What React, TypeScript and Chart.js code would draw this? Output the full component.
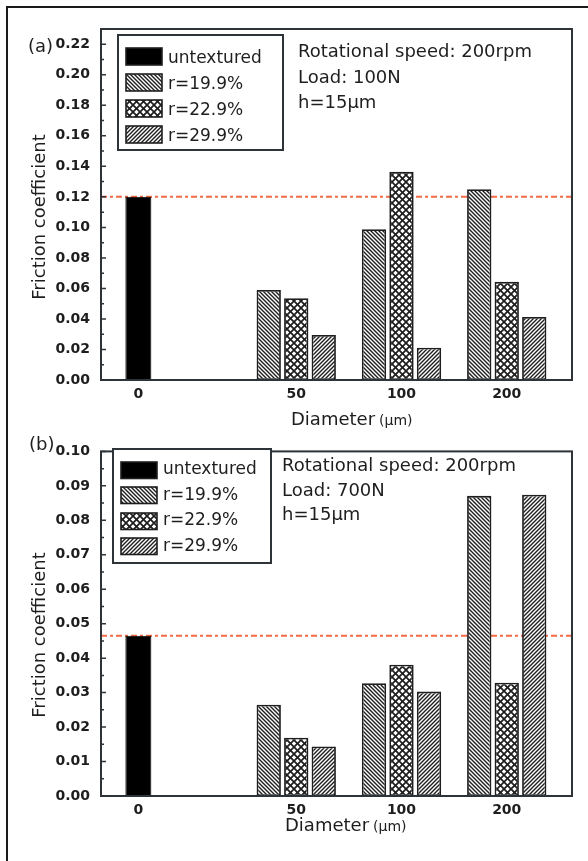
import React, { useEffect, useRef } from 'react';
import { Chart, registerables } from 'chart.js';

Chart.register(...registerables);

// ---------- data ----------
const categories = ['0', '50', '100', '200'];
const categoryPositions = [0, 1.5, 2.5, 3.5];
const seriesLabels = ['untextured', 'r=19.9%', 'r=22.9%', 'r=29.9%'];

const untexturedA = [0.12];
const r199A = [0.059, 0.0988, 0.125];
const r229A = [0.0536, 0.1364, 0.0643];
const r299A = [0.0295, 0.0212, 0.0413];
const refLineA = 0.12;
const yTicksA = [0, 0.02, 0.04, 0.06, 0.08, 0.1, 0.12, 0.14, 0.16, 0.18, 0.2, 0.22];
const yMaxA = 0.23;
const notesA = ['Rotational speed: 200rpm', 'Load: 100N', 'h=15\u03bcm'];

const untexturedB = [0.0465];
const r199B = [0.0265, 0.0327, 0.0871];
const r229B = [0.0169, 0.0381, 0.0329];
const r299B = [0.0144, 0.0303, 0.0874];
const refLineB = 0.0465;
const yTicksB = [0, 0.01, 0.02, 0.03, 0.04, 0.05, 0.06, 0.07, 0.08, 0.09, 0.1];
const yMaxB = 0.1;
const notesB = ['Rotational speed: 200rpm', 'Load: 700N', 'h=15\u03bcm'];

const FONT = '"DejaVu Sans", "Liberation Sans", Arial, sans-serif';
const INK = '#1e1e1e';

type PanelLayout = {
  height: number;
  top: number;
  xAxisHeight: number;
  panelLabel: string;
  panelLabelPos: [number, number];
  legendBox: [number, number, number, number];
  swatchX: number;
  swatchW: number;
  swatchH: number;
  swatchTops: number[];
  textX: number;
  textBaselines: number[];
  noteX: number;
  noteBaselines: number[];
  yTitleCenterY: number;
  yTitleBaselineX: number;
  xTitlePos: [number, number];
};

const layoutA: PanelLayout = {
  height: 432,
  top: 29,
  xAxisHeight: 432 - 380,
  panelLabel: '(a)',
  panelLabelPos: [28, 52],
  legendBox: [118, 35, 283, 150],
  swatchX: 126,
  swatchW: 36,
  swatchH: 17,
  swatchTops: [48, 74, 100, 126],
  textX: 168,
  textBaselines: [63, 89, 115, 141],
  noteX: 298,
  noteBaselines: [57, 83, 108],
  yTitleCenterY: 217,
  yTitleBaselineX: 45,
  xTitlePos: [291, 425],
};

const layoutB: PanelLayout = {
  height: 429,
  top: 14,
  xAxisHeight: 429 - 364,
  panelLabel: '(b)',
  panelLabelPos: [29, 18],
  legendBox: [113, 17, 271, 131],
  swatchX: 121,
  swatchW: 36,
  swatchH: 16.5,
  swatchTops: [30, 55, 81, 106],
  textX: 163,
  textBaselines: [41.5, 68, 93, 118.5],
  noteX: 282,
  noteBaselines: [38.5, 64, 88],
  yTitleCenterY: 203,
  yTitleBaselineX: 45,
  xTitlePos: [285, 399],
};

function makePattern(kind: 'back' | 'fwd' | 'cross'): CanvasPattern | string {
  const p = kind === 'cross' ? 7 : 4;
  const c = document.createElement('canvas');
  c.width = p;
  c.height = p;
  const g = c.getContext('2d');
  if (!g) return '#888';
  g.fillStyle = '#ffffff';
  g.fillRect(0, 0, p, p);
  g.strokeStyle = INK;
  g.lineWidth = kind === 'cross' ? 1.7 : 1.4;
  const back = () => {
    g.beginPath();
    g.moveTo(-1, -1);
    g.lineTo(p + 1, p + 1);
    g.moveTo(-1, p - 1);
    g.lineTo(1, p + 1);
    g.moveTo(p - 1, -1);
    g.lineTo(p + 1, 1);
    g.stroke();
  };
  const fwd = () => {
    g.beginPath();
    g.moveTo(-1, p + 1);
    g.lineTo(p + 1, -1);
    g.moveTo(-1, 1);
    g.lineTo(1, -1);
    g.moveTo(p - 1, p + 1);
    g.lineTo(p + 1, p - 1);
    g.stroke();
  };
  if (kind === 'back') back();
  else if (kind === 'fwd') fwd();
  else {
    back();
    fwd();
  }
  const pat = g.createPattern(c, 'repeat');
  return pat || '#888';
}

function buildChart(
  canvas: HTMLCanvasElement,
  L: PanelLayout,
  untextured: number[],
  r199: number[],
  r229: number[],
  r299: number[],
  refValue: number,
  yTicks: number[],
  yMax: number,
  notes: string[]
) {
  const patBack = makePattern('back');
  const patCross = makePattern('cross');
  const patFwd = makePattern('fwd');
  const fills: (string | CanvasPattern)[] = ['#000000', patBack, patCross, patFwd];
  const texturedPos = categoryPositions.slice(1);

  const minorTicks: number[] = [];
  for (let i = 0; i < yTicks.length - 1; i++) minorTicks.push((yTicks[i] + yTicks[i + 1]) / 2);

  const panelPlugin = {
    id: 'panelDecor',
    beforeDatasetsDraw(chart: any) {
      const { ctx, chartArea } = chart;
      const y = chart.scales.y.getPixelForValue(refValue);
      ctx.save();
      ctx.strokeStyle = '#f36a45';
      ctx.lineWidth = 2;
      ctx.setLineDash([6, 3, 3, 3]);
      ctx.beginPath();
      ctx.moveTo(chartArea.left, y);
      ctx.lineTo(chartArea.right, y);
      ctx.stroke();
      ctx.restore();
    },
    afterDraw(chart: any) {
      const { ctx, chartArea } = chart;
      const ys = chart.scales.y;
      ctx.save();
      // frame
      ctx.strokeStyle = '#2e3338';
      ctx.lineWidth = 2;
      ctx.strokeRect(chartArea.left, chartArea.top, chartArea.right - chartArea.left, chartArea.bottom - chartArea.top);
      // inward ticks on the y axis
      ctx.lineWidth = 1.5;
      ctx.beginPath();
      yTicks.forEach((v) => {
        const py = ys.getPixelForValue(v);
        ctx.moveTo(chartArea.left, py);
        ctx.lineTo(chartArea.left + 5, py);
      });
      minorTicks.forEach((v) => {
        const py = ys.getPixelForValue(v);
        ctx.moveTo(chartArea.left, py);
        ctx.lineTo(chartArea.left + 3, py);
      });
      ctx.stroke();

      // legend
      const [bx0, by0, bx1, by1] = L.legendBox;
      ctx.fillStyle = '#ffffff';
      ctx.fillRect(bx0, by0, bx1 - bx0, by1 - by0);
      ctx.strokeStyle = '#2e3338';
      ctx.lineWidth = 2;
      ctx.strokeRect(bx0, by0, bx1 - bx0, by1 - by0);
      ctx.font = `17px ${FONT}`;
      ctx.textBaseline = 'alphabetic';
      ctx.textAlign = 'left';
      seriesLabels.forEach((lab, i) => {
        const top = L.swatchTops[i];
        ctx.fillStyle = fills[i] as any;
        ctx.fillRect(L.swatchX, top, L.swatchW, L.swatchH);
        ctx.strokeStyle = INK;
        ctx.lineWidth = 1.6;
        ctx.strokeRect(L.swatchX, top, L.swatchW, L.swatchH);
        ctx.fillStyle = INK;
        ctx.fillText(lab, L.textX, L.textBaselines[i]);
      });

      // annotation
      ctx.font = `18px ${FONT}`;
      ctx.fillStyle = INK;
      notes.forEach((t, i) => ctx.fillText(t, L.noteX, L.noteBaselines[i]));

      // panel label
      ctx.font = `18px ${FONT}`;
      ctx.fillText(L.panelLabel, L.panelLabelPos[0], L.panelLabelPos[1]);

      // y title
      ctx.save();
      ctx.translate(L.yTitleBaselineX, L.yTitleCenterY);
      ctx.rotate(-Math.PI / 2);
      ctx.textAlign = 'center';
      ctx.font = `18px ${FONT}`;
      ctx.fillText('Friction coefficient', 0, 0);
      ctx.restore();

      // x title
      ctx.textAlign = 'left';
      ctx.font = `18px ${FONT}`;
      const main = 'Diameter';
      ctx.fillText(main, L.xTitlePos[0], L.xTitlePos[1]);
      const w = ctx.measureText(main).width;
      ctx.font = `14px ${FONT}`;
      ctx.fillText('(\u03bcm)', L.xTitlePos[0] + w + 4, L.xTitlePos[1]);
      ctx.restore();
    },
  };

  const tickFont = { family: FONT, size: 14, weight: 'bold' as const };

  return new Chart(canvas, {
    type: 'bar',
    data: {
      datasets: [
        {
          label: seriesLabels[0],
          data: untextured.map((y) => ({ x: categoryPositions[0], y })),
          backgroundColor: '#000000',
          borderColor: '#000000',
          borderWidth: 1,
          grouped: false,
          maxBarThickness: 26,
        } as any,
        {
          label: seriesLabels[1],
          data: texturedPos.map((x, i) => ({ x, y: r199[i] })),
          backgroundColor: patBack,
          borderColor: INK,
          borderWidth: 1.8,
          borderSkipped: false,
          categoryPercentage: 0.784,
          barPercentage: 0.884,
        },
        {
          label: seriesLabels[2],
          data: texturedPos.map((x, i) => ({ x, y: r229[i] })),
          backgroundColor: patCross,
          borderColor: INK,
          borderWidth: 1.8,
          borderSkipped: false,
          categoryPercentage: 0.784,
          barPercentage: 0.884,
        },
        {
          label: seriesLabels[3],
          data: texturedPos.map((x, i) => ({ x, y: r299[i] })),
          backgroundColor: patFwd,
          borderColor: INK,
          borderWidth: 1.8,
          borderSkipped: false,
          categoryPercentage: 0.784,
          barPercentage: 0.884,
        },
      ],
    },
    options: {
      responsive: false,
      animation: false,
      layout: { padding: { left: 0, top: L.top, right: 16, bottom: 0 } },
      plugins: {
        legend: { display: false },
        tooltip: { enabled: false },
        title: { display: false },
      },
      scales: {
        x: {
          type: 'linear',
          min: -0.355,
          max: 4.12,
          offset: false,
          grid: { display: false, drawTicks: false },
          border: { display: false },
          afterBuildTicks: (s: any) => {
            s.ticks = categoryPositions.map((v) => ({ value: v }));
          },
          afterFit: (s: any) => {
            s.height = L.xAxisHeight;
          },
          ticks: {
            autoSkip: false,
            maxRotation: 0,
            padding: 6,
            color: INK,
            font: tickFont,
            callback: (_v: any, i: number) => categories[i],
          },
        },
        y: {
          min: 0,
          max: yMax,
          grid: { display: false, drawTicks: false },
          border: { display: false },
          afterBuildTicks: (s: any) => {
            s.ticks = yTicks.map((v) => ({ value: v }));
          },
          afterFit: (s: any) => {
            s.width = 101;
          },
          ticks: {
            padding: 11,
            color: INK,
            font: tickFont,
            callback: (v: any) => Number(v).toFixed(2),
          },
        },
      },
    } as any,
    plugins: [panelPlugin],
  });
}

export default function App() {
  const canvasA = useRef<HTMLCanvasElement | null>(null);
  const canvasB = useRef<HTMLCanvasElement | null>(null);

  useEffect(() => {
    const charts: Chart[] = [];
    if (canvasA.current)
      charts.push(buildChart(canvasA.current, layoutA, untexturedA, r199A, r229A, r299A, refLineA, yTicksA, yMaxA, notesA));
    if (canvasB.current)
      charts.push(buildChart(canvasB.current, layoutB, untexturedB, r199B, r229B, r299B, refLineB, yTicksB, yMaxB, notesB));
    return () => charts.forEach((c) => c.destroy());
  }, []);

  return (
    <div
      style={{
        position: 'absolute',
        left: 0,
        top: 0,
        width: 588,
        height: 861,
        overflow: 'hidden',
        background: '#ffffff',
      }}
    >
      <canvas ref={canvasA} width={588} height={layoutA.height} style={{ position: 'absolute', left: 0, top: 0, display: 'block' }} />
      <canvas ref={canvasB} width={588} height={layoutB.height} style={{ position: 'absolute', left: 0, top: 432, display: 'block' }} />
      <div
        style={{
          position: 'absolute',
          left: 6,
          top: 6,
          width: 700,
          height: 1000,
          borderTop: '2px solid #1a1a1a',
          borderLeft: '2px solid #1a1a1a',
          pointerEvents: 'none',
        }}
      />
    </div>
  );
}
